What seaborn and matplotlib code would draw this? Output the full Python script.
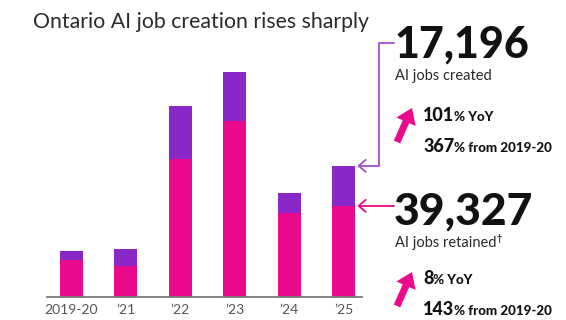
import matplotlib
matplotlib.use("Agg")
import matplotlib.pyplot as plt
import seaborn as sns
import numpy as np
from matplotlib.patches import FancyArrow
from matplotlib.lines import Line2D
from matplotlib.transforms import IdentityTransform

# ---- data ----
years = ["2019-20", "\u201921", "\u201922", "\u201923", "\u201924", "\u201925"]
retained = [16180, 13570, 59400, 75700, 36410, 39327]
created = [3680, 7170, 22760, 21040, 8560, 17196]
totals = [r + c for r, c in zip(retained, created)]

PINK = "#EC0A8C"
PURPLE = "#8A27C8"
LINE_PURPLE = "#A24ED8"

sns.set_theme(style="white")
plt.rcParams["font.family"] = ["Lato", "DejaVu Sans"]

W, H = 566, 320
fig = plt.figure(figsize=(W / 100, H / 100), dpi=100)

def fx(px):
    return px / W

def fy(py):
    return 1 - py / H

ax_left, ax_right, ax_base, ax_top = 47, 362, 297.3, 40
ax = fig.add_axes([fx(ax_left), fy(ax_base), fx(ax_right - ax_left), (ax_base - ax_top) / H])

sns.barplot(x=years, y=totals, color=PURPLE, width=0.42, saturation=1, ax=ax,
            order=years, linewidth=0, edgecolor="none")
sns.barplot(x=years, y=retained, color=PINK, width=0.42, saturation=1, ax=ax,
            order=years, linewidth=0, edgecolor="none")

ax.set_xlim(-0.45, 5.34)
ax.set_ylim(0, (ax_base - ax_top) * 430)
ax.set_yticks([])
ax.set_xlabel("")
ax.set_ylabel("")
for s in ["top", "right", "left"]:
    ax.spines[s].set_visible(False)
ax.spines["bottom"].set_color("#7a7a7a")
ax.spines["bottom"].set_linewidth(1.3)
ax.tick_params(axis="x", length=0, pad=5, labelsize=10, labelcolor="#555555")
ax.set_facecolor("none")

# ---- title ----
fig.text(fx(33), fy(28), "Ontario AI job creation rises sharply", fontsize=15.3,
         fontweight="normal", color="#2a2a2a", va="baseline", ha="left")

# ---- connectors (from bar 6 tops) ----
bar_right = 5 + 0.21
tip_x_data = bar_right + 0.05
disp = ax.transData
tx_p, ty_p = disp.transform((tip_x_data, totals[5]))
tx_r, ty_r = disp.transform((tip_x_data, retained[5]))

corner_x = 379
top_y = H - 43
end_x = 394
fig.add_artist(Line2D([tx_p + 1, corner_x, corner_x, end_x], [ty_p, ty_p, top_y, top_y],
                      transform=IdentityTransform(), color=LINE_PURPLE, lw=1.3))
fig.add_artist(Line2D([tx_r + 1, end_x], [ty_r, ty_r],
                      transform=IdentityTransform(), color=PINK, lw=1.3))
for (yy, col) in [(ty_p, LINE_PURPLE), (ty_r, PINK)]:
    fig.add_artist(Line2D([tx_p + 8, tx_p + 1, tx_p + 8], [yy + 6, yy, yy - 6],
                          transform=IdentityTransform(), color=col, lw=1.3))

# ---- right side text ----
renderer = fig.canvas.get_renderer()

def runs(x, y_base, parts):
    cx = x
    for txt, size in parts:
        t = fig.text(fx(cx), fy(y_base), txt, fontsize=size, fontweight="black",
                     color="#111111", va="baseline", ha="left")
        bb = t.get_window_extent(renderer=renderer)
        cx += bb.width

fig.text(fx(394), fy(58), "17,196", fontsize=31, fontweight="black", color="#111111",
         va="baseline", ha="left")
fig.text(fx(395), fy(80), "AI jobs created", fontsize=10.5, fontweight="normal",
         color="#2a2a2a", va="baseline", ha="left")
runs(423, 121, [("101", 13), ("% YoY", 9.6)])
runs(423, 152, [("367", 13), ("% from 2019-20", 9.6)])

fig.text(fx(394), fy(225), "39,327", fontsize=32, fontweight="black", color="#111111",
         va="baseline", ha="left")
t_ret = fig.text(fx(395), fy(247), "AI jobs retained", fontsize=10.5, fontweight="normal",
                 color="#2a2a2a", va="baseline", ha="left")
bb = t_ret.get_window_extent(renderer=renderer)
fig.text(fx(395 + bb.width + 0.5), fy(241), "\u2020", fontsize=6.5, fontweight="bold",
         color="#2a2a2a", va="baseline", ha="left")
runs(423, 284, [("8", 13), ("% YoY", 9.6)])
runs(423, 315, [("143", 13), ("% from 2019-20", 9.6)])

# ---- pink up arrows ----
for (x0, y0, x1, y1) in [(397, 142, 412, 108), (397, 306, 412, 272)]:
    fig.add_artist(FancyArrow(x0, H - y0, x1 - x0, -(y1 - y0), width=7, head_width=21,
                              head_length=15, length_includes_head=True,
                              transform=IdentityTransform(), color=PINK, lw=0))

fig.savefig("out.png", dpi=100)
